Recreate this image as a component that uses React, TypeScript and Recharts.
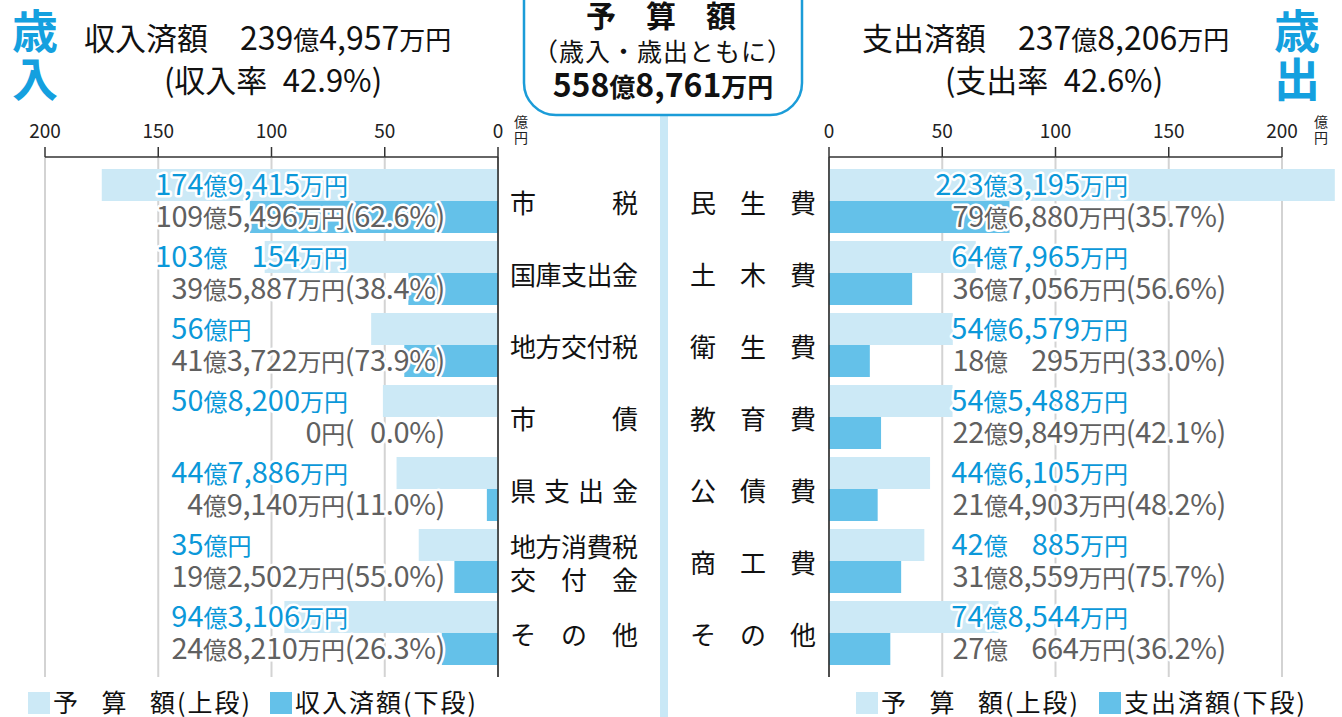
import React from 'react';
import { BarChart, Bar, XAxis, YAxis, CartesianGrid, LabelList } from 'recharts';

// ---------- data ----------
const revCategories = ['市税', '国庫支出金', '地方交付税', '市債', '県支出金', '地方消費税\n交付金', 'その他'];
const revBudget = [174.9415, 103.0154, 56, 50.82, 44.7886, 35, 94.3106];
const revActual = [109.5496, 39.5887, 41.3722, 0, 4.914, 19.2502, 24.821];
const revBudgetLabels = ['174億9,415万円', '103億　154万円', '56億円', '50億8,200万円', '44億7,886万円', '35億円', '94億3,106万円'];
const revActualLabels = ['109億5,496万円(62.6%)', '39億5,887万円(38.4%)', '41億3,722万円(73.9%)', '0円(\u20070.0%)', '4億9,140万円(11.0%)', '19億2,502万円(55.0%)', '24億8,210万円(26.3%)'];

const expCategories = ['民生費', '土木費', '衛生費', '教育費', '公債費', '商工費', 'その他'];
const expBudget = [223.3195, 64.7965, 54.6579, 54.5488, 44.6105, 42.0885, 74.8544];
const expActual = [79.688, 36.7056, 18.0295, 22.9849, 21.4903, 31.8559, 27.0664];
const expBudgetLabels = ['223億3,195万円', '64億7,965万円', '54億6,579万円', '54億5,488万円', '44億6,105万円', '42億　885万円', '74億8,544万円'];
const expActualLabels = ['79億6,880万円(35.7%)', '36億7,056万円(56.6%)', '18億　295万円(33.0%)', '22億9,849万円(42.1%)', '21億4,903万円(48.2%)', '31億8,559万円(75.7%)', '27億　664万円(36.2%)'];

const axisTicks = [0, 50, 100, 150, 200];

const revTitleName = '収入済額';
const revTitleAmount = '239億4,957万円';
const revRate = '(収入率\u200242.9%)';
const expTitleName = '支出済額';
const expTitleAmount = '237億8,206万円';
const expRate = '(支出率\u200242.6%)';
const boxTitle = '予　算　額';
const boxSub = '（歳入・歳出ともに）';
const boxTotal = '558億8,761万円';
const legendBudget = '予\u2002\u2009算\u2002\u2009額(上段)';
const legendRev = '収入済額(下段)';
const legendExp = '支出済額(下段)';

const revData = revCategories.map((name, i) => ({
  name, budget: revBudget[i], actual: revActual[i], budgetLabel: revBudgetLabels[i], actualLabel: revActualLabels[i],
}));
const expData = expCategories.map((name, i) => ({
  name, budget: expBudget[i], actual: expActual[i], budgetLabel: expBudgetLabels[i], actualLabel: expActualLabels[i],
}));

// ---------- layout ----------
const W = 1342;
const H = 717;
const PLOT_TOP = 157;
const PLOT_BOTTOM = 677;
const L_LEFT = 45;
const L_ZERO = 498;
const LEFT_W = 660;
const RIGHT_X = 668;
const RIGHT_W = W - RIGHT_X;
const R_ZERO = 829;
const PX = (L_ZERO - L_LEFT) / 200;
const R_MAX = (W - R_ZERO) / PX;

const FONT = '"Noto Sans CJK JP", "Noto Sans", sans-serif';
const C_BUDGET = '#cce9f6';
const C_ACTUAL = '#64c1e9';
const C_BLUE = '#0b98d9';
const C_GREY = '#606060';
const C_HEAD_BLUE = '#14a0df';

const CJK_RE = /([\u3000-\u30ff\u3400-\u9fff\uff00-\uffef]+)/;

function Rich(props: any) {
  const { x, y, text, anchor = 'start', num = 29, cjk = 24, fill = '#111', halo = false, weight = 400, spacing = 0 } = props;
  const parts = String(text).split(CJK_RE).filter((s) => s.length > 0);
  return (
    <text
      x={x}
      y={y}
      textAnchor={anchor}
      fill={fill}
      fontFamily={FONT}
      fontWeight={weight}
      letterSpacing={spacing}
      stroke={halo ? '#ffffff' : undefined}
      strokeWidth={halo ? 5 : undefined}
      strokeLinejoin="round"
      paintOrder="stroke"
    >
      {parts.map((p, i) => (
        <tspan key={i} fontSize={CJK_RE.test(p) ? cjk : num}>{p}</tspan>
      ))}
    </text>
  );
}

// Both labels hang on the budget bar (always drawn); the lower (actual) label
// sits on the row directly beneath, since the two bars are flush in each band.
function makeLabel(side: 'L' | 'R', kind: 'b' | 'a') {
  return (props: any) => {
    const vb = props.viewBox ?? props;
    const x = Number(vb.x), y = Number(vb.y), width = Number(vb.width), height = Number(vb.height);
    const zero = side === 'L' ? Math.max(x, x + width) : Math.min(x, x + width);
    const cy = y + height * (kind === 'b' ? 0.5 : 1.5) + 10;
    let text = String(props.value);
    let tx = 0;
    let anchor = 'end';
    if (side === 'L' && kind === 'b') {
      const m = text.match(/^\d+/);
      const d = m ? m[0].length : 3;
      text = '\u2007'.repeat(Math.max(0, 3 - d)) + text;
      tx = zero - 150 * PX - 3;
      anchor = 'start';
    } else if (side === 'L') {
      tx = zero - 53;
    } else if (kind === 'b') {
      tx = zero + 299;
    } else {
      tx = zero + 397;
    }
    return (
      <Rich x={tx} y={cy} text={text} anchor={anchor} fill={kind === 'b' ? C_BLUE : C_GREY}
        spacing={kind === 'a' ? -0.35 : 0} halo />
    );
  };
}

function AxisTick(props: any) {
  const { x, y, payload, dir } = props;
  const v = Number(payload.value);
  return (
    <g>
      <text x={x} y={y - 19} textAnchor="middle" fontSize={19} fill="#222" fontFamily={FONT}>{v}</text>
      <line x1={x} y1={y - 10} x2={x} y2={y} stroke="#333" strokeWidth={1.5} />
      {v < 200 && <line x1={x} y1={y} x2={x + dir * 50 * PX} y2={y} stroke="#333" strokeWidth={1.5} />}
    </g>
  );
}

function BottomTick(props: any) {
  const { x, y, payload, dir } = props;
  const v = Number(payload.value);
  if (v >= 200) return <g />;
  return <line x1={x} y1={y} x2={x + dir * 50 * PX} y2={y} stroke="#d3d3d3" strokeWidth={2} />;
}

function CatTick(props: any) {
  const { x, y, payload, side } = props;
  const lines = String(payload.value).split('\n');
  const fs = 26;
  const x0 = side === 'L' ? x + 12 : x - 139;
  const span = side === 'L' ? 128 : 126;
  return (
    <g>
      {lines.map((line, li) => {
        const chars = Array.from(line);
        const n = chars.length;
        const step = n > 1 ? (span - fs) / (n - 1) : 0;
        const ly = lines.length > 1 ? y + 1 + (li - 0.5) * 33 : y;
        return chars.map((c, ci) => (
          <text key={`${li}-${ci}`} x={x0 + fs / 2 + ci * step} y={ly} textAnchor="middle" dominantBaseline="central"
            fontSize={fs} fill="#111" fontFamily={FONT}>{c}</text>
        ));
      })}
    </g>
  );
}

function LegendItem(props: any) {
  const { x, color, label } = props;
  return (
    <g>
      <rect x={x} y={692} width={22} height={22} fill={color} />
      <text x={x + 25} y={712} fontSize={25} letterSpacing={2} fill="#111" fontFamily={FONT}>{label}</text>
    </g>
  );
}

function Header() {
  return (
    <svg width={W} height={H} style={{ position: 'absolute', left: 0, top: 0, pointerEvents: 'none' }}>
      <text x={35} y={48} textAnchor="middle" fontSize={46} fontWeight={700} fill={C_HEAD_BLUE} fontFamily={FONT}>歳</text>
      <text x={35} y={96} textAnchor="middle" fontSize={46} fontWeight={700} fill={C_HEAD_BLUE} fontFamily={FONT}>入</text>
      <text x={1297} y={48} textAnchor="middle" fontSize={46} fontWeight={700} fill={C_HEAD_BLUE} fontFamily={FONT}>歳</text>
      <text x={1297} y={96} textAnchor="middle" fontSize={46} fontWeight={700} fill={C_HEAD_BLUE} fontFamily={FONT}>出</text>

      <text x={84} y={50} fontSize={31} fill="#111" fontFamily={FONT}>{revTitleName}</text>
      <Rich x={240} y={50} text={revTitleAmount} num={32} cjk={26} />
      <Rich x={273} y={92} text={revRate} anchor="middle" num={31} cjk={31} />
      <text x={862} y={50} fontSize={31} fill="#111" fontFamily={FONT}>{expTitleName}</text>
      <Rich x={1018} y={50} text={expTitleAmount} num={32} cjk={26} />
      <Rich x={1054} y={92} text={expRate} anchor="middle" num={31} cjk={31} />

      <rect x={524} y={-40} width={278} height={155} rx={32} ry={32} fill="#fff" stroke="#1b9cd8" strokeWidth={2.5} />
      <text x={661} y={27} textAnchor="middle" fontSize={30} fontWeight={700} fill="#111" fontFamily={FONT}>{boxTitle}</text>
      <text x={663} y={61} textAnchor="middle" fontSize={25} letterSpacing={1} fill="#111" fontFamily={FONT}>{boxSub}</text>
      <Rich x={663} y={97} text={boxTotal} anchor="middle" num={32} cjk={26} weight={700} />

      <text x={521} y={127} textAnchor="middle" fontSize={14} fill="#222" fontFamily={FONT}>億</text>
      <text x={521} y={143} textAnchor="middle" fontSize={14} fill="#222" fontFamily={FONT}>円</text>
      <text x={1321} y={127} textAnchor="middle" fontSize={14} fill="#222" fontFamily={FONT}>億</text>
      <text x={1321} y={143} textAnchor="middle" fontSize={14} fill="#222" fontFamily={FONT}>円</text>

      <LegendItem x={28} color={C_BUDGET} label={legendBudget} />
      <LegendItem x={270} color={C_ACTUAL} label={legendRev} />
      <LegendItem x={856} color={C_BUDGET} label={legendBudget} />
      <LegendItem x={1099} color={C_ACTUAL} label={legendExp} />
    </svg>
  );
}

export default function App() {
  return (
    <div style={{ position: 'relative', width: W, height: H, overflow: 'hidden', background: '#fff' }}>
      <style>{'body{margin:0;}'}</style>
      <div style={{ position: 'absolute', left: 660, top: 110, width: 8, height: H - 110, background: '#c9e8f6' }} />
      <div style={{ position: 'absolute', left: 0, top: 0 }}>
        <BarChart width={LEFT_W} height={H} data={revData} layout="vertical"
          margin={{ top: PLOT_TOP - 40, right: 0, bottom: H - PLOT_BOTTOM, left: L_LEFT }}
          barCategoryGap={4} barGap={0}>
          <CartesianGrid xAxisId="top" horizontal={false} syncWithTicks stroke="#d3d3d3" strokeWidth={2} />
          <XAxis xAxisId="top" type="number" orientation="top" domain={[0, 200]} ticks={axisTicks} reversed
            height={40} axisLine={false} tickLine={false} tickSize={0} tickMargin={0} interval={0}
            tick={(p: any) => <AxisTick {...p} dir={-1} />} />
          <XAxis xAxisId="bottom" type="number" orientation="bottom" domain={[0, 200]} ticks={axisTicks} reversed
            height={0} axisLine={false} tickLine={false} tickSize={0} tickMargin={0} interval={0}
            tick={(p: any) => <BottomTick {...p} dir={-1} />} />
          <YAxis type="category" dataKey="name" orientation="right" width={LEFT_W - L_ZERO}
            axisLine={{ stroke: '#222', strokeWidth: 1.5 }} tickLine={false} tickSize={0} tickMargin={0} interval={0}
            padding={{ top: 8, bottom: 8 }}
            tick={(p: any) => <CatTick {...p} side="L" />} />
          <Bar xAxisId="top" dataKey="budget" fill={C_BUDGET} isAnimationActive={false}>
            <LabelList dataKey="budgetLabel" content={makeLabel('L', 'b')} />
            <LabelList dataKey="actualLabel" content={makeLabel('L', 'a')} />
          </Bar>
          <Bar xAxisId="top" dataKey="actual" fill={C_ACTUAL} isAnimationActive={false} />
        </BarChart>
      </div>
      <div style={{ position: 'absolute', left: RIGHT_X, top: 0 }}>
        <BarChart width={RIGHT_W} height={H} data={expData} layout="vertical"
          margin={{ top: PLOT_TOP - 40, right: 0, bottom: H - PLOT_BOTTOM, left: 0 }}
          barCategoryGap={4} barGap={0}>
          <CartesianGrid xAxisId="top" horizontal={false} syncWithTicks stroke="#d3d3d3" strokeWidth={2} />
          <XAxis xAxisId="top" type="number" orientation="top" domain={[0, R_MAX]} ticks={axisTicks}
            height={40} axisLine={false} tickLine={false} tickSize={0} tickMargin={0} interval={0}
            tick={(p: any) => <AxisTick {...p} dir={1} />} />
          <XAxis xAxisId="bottom" type="number" orientation="bottom" domain={[0, R_MAX]} ticks={axisTicks}
            height={0} axisLine={false} tickLine={false} tickSize={0} tickMargin={0} interval={0}
            tick={(p: any) => <BottomTick {...p} dir={1} />} />
          <YAxis type="category" dataKey="name" orientation="left" width={R_ZERO - RIGHT_X}
            axisLine={{ stroke: '#222', strokeWidth: 1.5 }} tickLine={false} tickSize={0} tickMargin={0} interval={0}
            padding={{ top: 8, bottom: 8 }}
            tick={(p: any) => <CatTick {...p} side="R" />} />
          <Bar xAxisId="top" dataKey="budget" fill={C_BUDGET} isAnimationActive={false}>
            <LabelList dataKey="budgetLabel" content={makeLabel('R', 'b')} />
            <LabelList dataKey="actualLabel" content={makeLabel('R', 'a')} />
          </Bar>
          <Bar xAxisId="top" dataKey="actual" fill={C_ACTUAL} isAnimationActive={false} />
        </BarChart>
      </div>
      <Header />
    </div>
  );
}
